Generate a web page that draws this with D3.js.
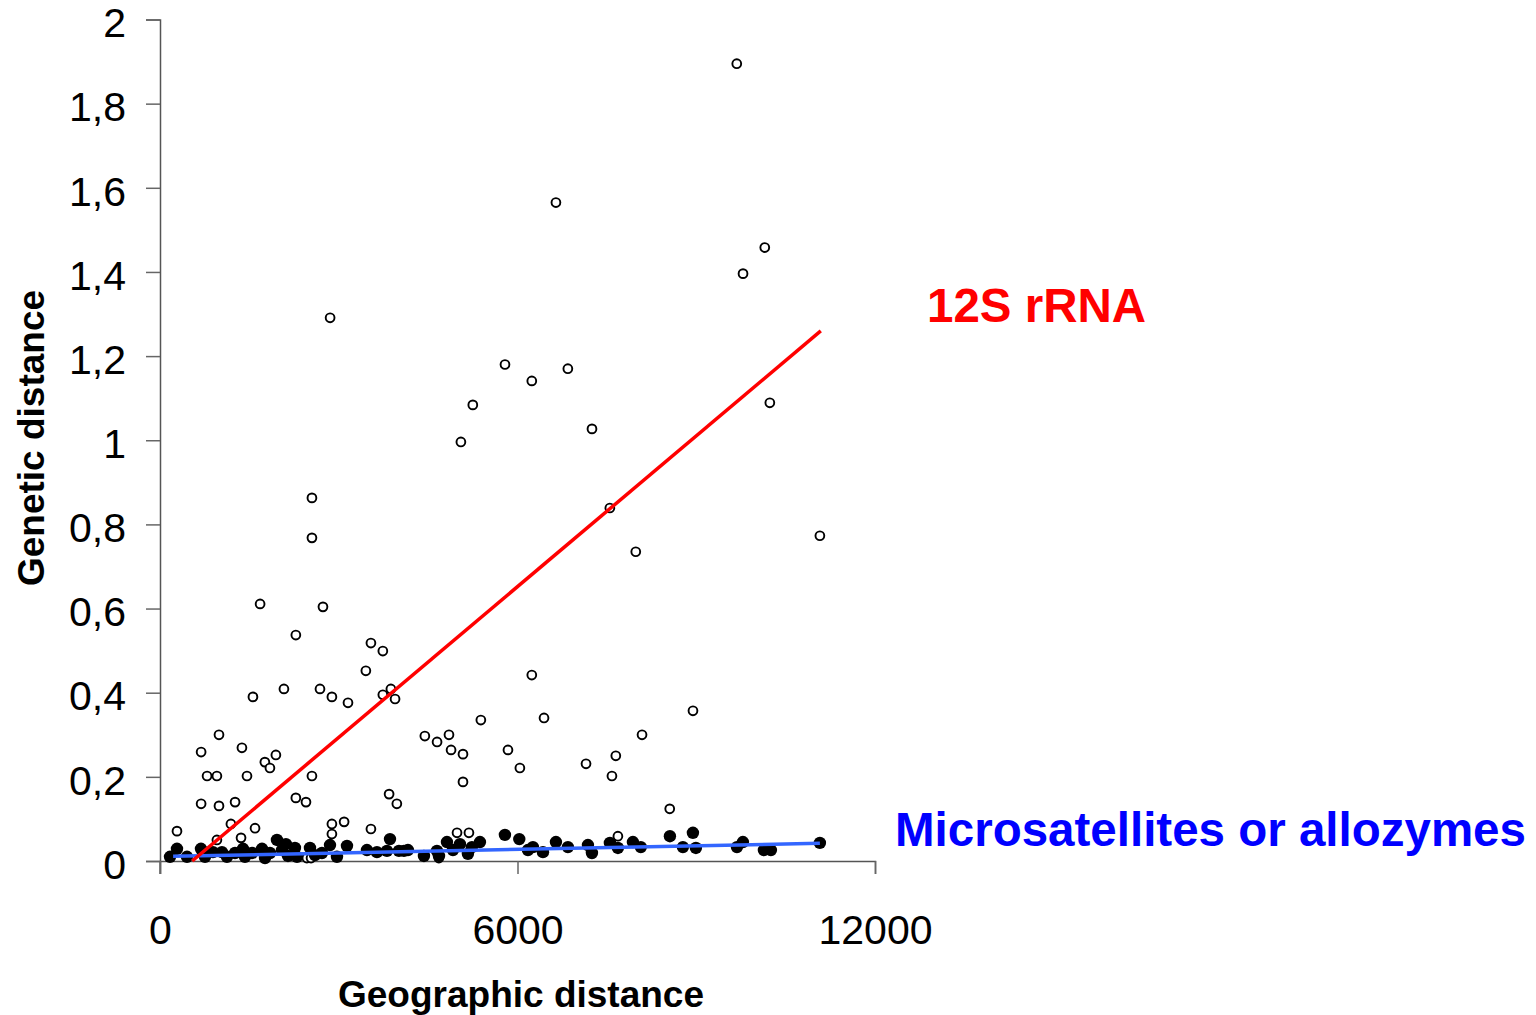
<!DOCTYPE html>
<html>
<head>
<meta charset="utf-8">
<title>Genetic vs geographic distance</title>
<script src="https://d3js.org/d3.v7.min.js"></script>
<style>
  body { margin: 0; background: #fff; }
  text { font-family: "Liberation Sans", Arial, sans-serif; }
</style>
</head>
<body>
<script>
// 12S rRNA pairs (open circles): [geographic distance, genetic distance]
var rrnaPoints = [
  [9680,1.895],[6645,1.565],[10150,1.458],[9785,1.396],[2855,1.291],[5790,1.180],
  [6240,1.141],[6845,1.170],[5250,1.084],[5050,0.996],[10235,1.089],[7250,1.027],
  [7550,0.839],[11075,0.773],[7985,0.735],[2550,0.863],[2550,0.768],[1680,0.611],
  [2735,0.604],[2280,0.537],[3540,0.518],[3740,0.499],[3455,0.452],[6240,0.442],
  [2080,0.409],[2685,0.409],[2885,0.390],[3155,0.376],[1560,0.390],[3740,0.395],
  [3875,0.409],[3945,0.385],[8945,0.357],[5385,0.335],[6445,0.340],[4445,0.297],
  [4650,0.283],[4850,0.300],[4885,0.264],[5085,0.254],[5840,0.264],[6040,0.221],
  [8090,0.300],[7650,0.250],[7150,0.231],[7585,0.202],[5085,0.188],[8555,0.124],
  [990,0.300],[690,0.259],[1375,0.269],[1945,0.252],[1760,0.235],[1845,0.221],
  [790,0.202],[955,0.202],[1460,0.202],[2550,0.202],[690,0.136],[990,0.131],
  [1260,0.140],[2280,0.150],[2450,0.140],[285,0.071],[1190,0.088],[1595,0.078],
  [1360,0.055],[955,0.050],[2885,0.088],[3090,0.093],[2885,0.064],[3540,0.076],
  [3845,0.159],[3975,0.136],[4985,0.067],[5185,0.067],[7685,0.059],
  [2465,0.007],[2535,0.007],[4680,0.007]
];

// microsatellite / allozyme pairs (filled dots)
var microPoints = [
  [168,0.010],[285,0.029],[453,0.010],[688,0.029],[755,0.010],[889,0.021],
  [1040,0.021],[1124,0.010],[1259,0.019],[1393,0.029],[1426,0.010],[1544,0.019],
  [1712,0.029],[1762,0.007],[1846,0.019],[1963,0.050],[2047,0.026],[2114,0.040],
  [2148,0.012],[2265,0.031],[2299,0.010],[2517,0.031],[2601,0.014],[2718,0.019],
  [2853,0.038],[2970,0.010],[3138,0.036],[3473,0.026],[3641,0.021],[3809,0.024],
  [3860,0.052],[4010,0.024],[4094,0.024],[4161,0.026],[4430,0.012],[4648,0.024],
  [4682,0.012],[4816,0.045],[4917,0.026],[5034,0.040],[5168,0.017],[5235,0.033],
  [5370,0.045],[5789,0.062],[6030,0.052],[6175,0.026],[6259,0.033],[6427,0.021],
  [6645,0.045],[6846,0.033],[7182,0.038],[7249,0.019],[7551,0.043],[7685,0.031],
  [7937,0.045],[8070,0.033],[8558,0.059],[8776,0.033],[8944,0.067],[8994,0.031],
  [9683,0.033],[9783,0.045],[10135,0.026],[10253,0.026],[11075,0.043]
];

// fitted trend lines (end points)
var rrnaTrend = [[540, 0], [11090, 1.26]];
var microTrend = [[220, 0.011], [11075, 0.042]];

var xTicks = [0, 6000, 12000];
var xTickLabels = ["0", "6000", "12000"];
var yTicks = [0, 0.2, 0.4, 0.6, 0.8, 1, 1.2, 1.4, 1.6, 1.8, 2];
var yTickLabels = ["0", "0,2", "0,4", "0,6", "0,8", "1", "1,2", "1,4", "1,6", "1,8", "2"];

var width = 1536, height = 1015;

var svg = d3.select('body')
  .append('svg')
    .attr('width', width)
    .attr('height', height);

var x = d3.scaleLinear().domain([0, 12000]).range([160, 875]);
var y = d3.scaleLinear().domain([0, 2]).range([861, 19.5]);

// y axis
var yAxis = d3.axisLeft(y)
  .tickValues(yTicks)
  .tickSize(14)
  .tickPadding(20)
  .tickFormat(function(d, i) { return yTickLabels[i]; });

var gy = svg.append('g')
  .attr('transform', 'translate(160,0)')
  .call(yAxis);

// x axis
var xAxis = d3.axisBottom(x)
  .tickValues(xTicks)
  .tickSize(13)
  .tickPadding(41)
  .tickFormat(function(d, i) { return xTickLabels[i]; });

var gx = svg.append('g')
  .attr('transform', 'translate(0,861)')
  .call(xAxis);

[gx, gy].forEach(function(g) {
  g.select('.domain').attr('stroke', '#555').attr('stroke-width', 1.5);
  g.selectAll('.tick line').attr('stroke', '#666').attr('stroke-width', 1.5);
  g.selectAll('.tick text')
    .attr('fill', '#000')
    .style('font-size', '41px')
    .style('font-family', '"Liberation Sans", Arial, sans-serif');
});
gy.selectAll('.tick text').attr('dy', '0.42em');
// extend y axis down to the x tick length
svg.append('line')
  .attr('x1', 160).attr('x2', 160)
  .attr('y1', 861).attr('y2', 874)
  .attr('stroke', '#666').attr('stroke-width', 1.5);

// open circles (12S rRNA)
svg.append('g')
  .selectAll('circle')
  .data(rrnaPoints)
  .enter()
    .append('circle')
      .attr('cx', function(d) { return x(d[0]); })
      .attr('cy', function(d) { return y(d[1]); })
      .attr('r', 4.4)
      .attr('fill', '#fff')
      .attr('stroke', '#000')
      .attr('stroke-width', 1.9);

// filled dots (microsatellites / allozymes)
svg.append('g')
  .selectAll('circle')
  .data(microPoints)
  .enter()
    .append('circle')
      .attr('cx', function(d) { return x(d[0]); })
      .attr('cy', function(d) { return y(d[1]); })
      .attr('r', 6.2)
      .attr('fill', '#000');

var line = d3.line()
  .x(function(d) { return x(d[0]); })
  .y(function(d) { return y(d[1]); });

svg.append('path')
  .attr('d', line(microTrend))
  .attr('fill', 'none')
  .attr('stroke', '#3366ff')
  .attr('stroke-width', 3.5);

svg.append('path')
  .attr('d', line(rrnaTrend))
  .attr('fill', 'none')
  .attr('stroke', '#ff0000')
  .attr('stroke-width', 3.5);

// axis titles
svg.append('text')
  .attr('x', 521).attr('y', 1007)
  .attr('text-anchor', 'middle')
  .style('font-size', '37px')
  .style('font-weight', 'bold')
  .text('Geographic distance');

svg.append('text')
  .attr('transform', 'translate(44,438) rotate(-90)')
  .attr('text-anchor', 'middle')
  .style('font-size', '37px')
  .style('font-weight', 'bold')
  .text('Genetic distance');

// series labels
svg.append('text')
  .attr('x', 927).attr('y', 322)
  .attr('fill', '#ff0000')
  .style('font-size', '47.5px')
  .style('font-weight', 'bold')
  .text('12S rRNA');

svg.append('text')
  .attr('x', 895).attr('y', 846)
  .attr('fill', '#0000ff')
  .style('font-size', '47.5px')
  .style('font-weight', 'bold')
  .text('Microsatellites or allozymes');
</script>
</body>
</html>
